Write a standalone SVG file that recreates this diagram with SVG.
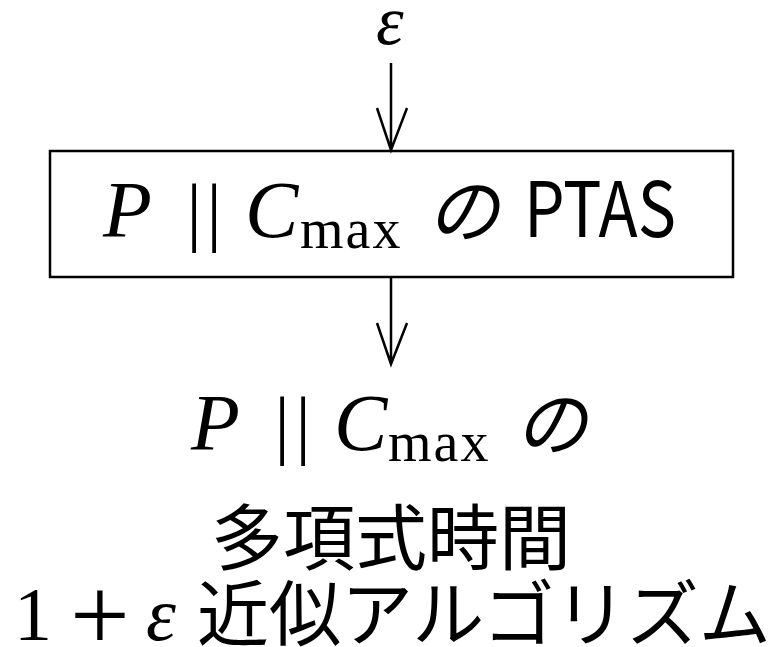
<svg xmlns="http://www.w3.org/2000/svg" width="770" height="647" viewBox="0 0 770 647">
<style>
.m{font-family:"Liberation Serif","Times New Roman",serif;font-style:italic;fill:#000}
.r{font-family:"Liberation Serif","Times New Roman",serif;fill:#000}
.j{font-family:"Noto Sans CJK JP","Noto Sans",sans-serif;fill:#000}
.ji{font-family:"Noto Sans CJK JP","Noto Sans",sans-serif;font-style:italic;fill:#000}
.ln{stroke:#000;stroke-width:2.5;fill:none}
</style>
<rect width="770" height="647" fill="#fff"/>
<g id="input">
<text class="m" x="376" y="44" font-size="70">ε</text>
</g>
<g id="ptas">
<rect class="ln" x="50" y="151" width="683" height="126"/>
<text class="m" x="103" y="237" font-size="80">P</text>
<text class="r" x="186.5 206.5" y="237" font-size="76">||</text>
<text class="m" x="245" y="237" font-size="80">C</text>
<text class="r" x="300" y="248" font-size="56" letter-spacing="2">max</text>
<text class="ji" x="427" y="237" font-size="72">の</text>
<text class="j" x="524" y="237" font-size="76" textLength="152" lengthAdjust="spacingAndGlyphs">PTAS</text>
</g>
<g id="output">
<text class="m" x="191" y="450" font-size="80">P</text>
<text class="r" x="274.5 295.5" y="450" font-size="76">||</text>
<text class="m" x="334" y="450" font-size="80">C</text>
<text class="r" x="388" y="461" font-size="56" letter-spacing="2">max</text>
<text class="ji" x="515" y="450" font-size="72">の</text>
<text class="j" x="391" y="564" font-size="72" text-anchor="middle">多項式時間</text>
<text class="r" x="14" y="640" font-size="76">1</text>
<text class="r" x="70" y="651" font-size="106">+</text>
<text class="m" x="146" y="640" font-size="76">ε</text>
<text class="j" x="197" y="640" font-size="72">近似アルゴリズム</text>
</g>
<g id="connectors">
<path class="ln" d="M391 63V150M377 108L391 150L407 108"/>
<path class="ln" d="M391 277V364M377 323L391 364L407 323"/>
</g>
</svg>
